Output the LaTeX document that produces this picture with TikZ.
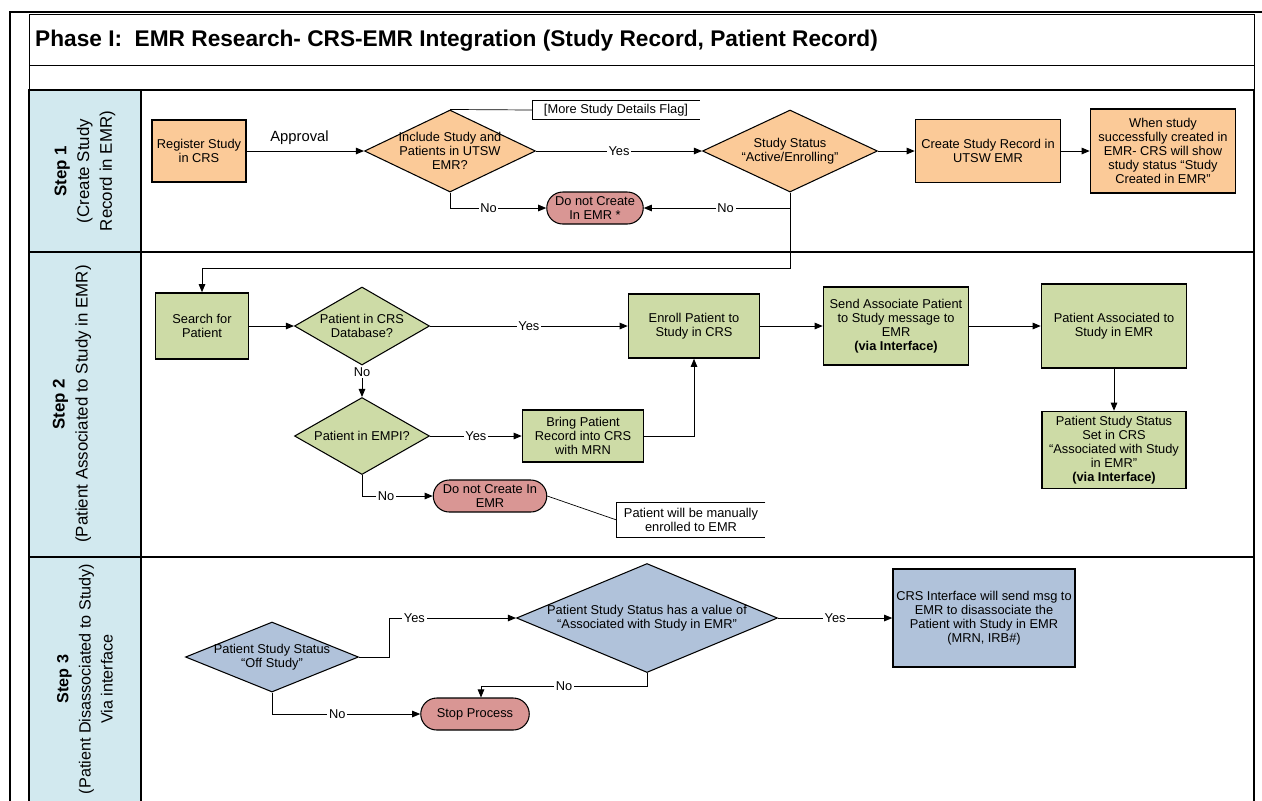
\documentclass[tikz,border=0pt]{standalone}
\usepackage{fontspec}
\setmainfont{Liberation Sans}
\usepackage{tikz}
\usetikzlibrary{shapes.geometric, shapes.misc, arrows.meta, positioning}
\definecolor{cLane}{RGB}{210,233,239}
\definecolor{cOrange}{RGB}{251,202,152}
\definecolor{cGreen}{RGB}{205,219,166}
\definecolor{cSteel}{RGB}{176,194,218}
\definecolor{cStop}{RGB}{217,150,148}
\newcommand{\flowfont}{\fontsize{7.3}{7.9}\selectfont}
\tikzset{
	stepbox/.style   ={rectangle, draw=black, line width=0.9pt, align=center, inner sep=1pt, font=\flowfont},
	choice/.style    ={diamond, draw=black, line width=0.6pt, inner sep=0pt},
	choicetext/.style={align=center, font=\flowfont, inner sep=0pt},
	endcap/.style    ={rounded rectangle, draw=black, line width=0.6pt, fill=cStop, align=center, inner sep=1pt, font=\flowfont},
	flagnote/.style  ={rectangle, align=center, inner sep=1pt, font=\flowfont},
	flowline/.style  ={-{Triangle[length=1.6mm, width=1.3mm]}, line width=0.5pt},
	lbl/.style       ={fill=white, inner sep=1pt, font=\flowfont},
	lanehead/.style  ={rotate=90, align=center, font=\fontsize{9.6}{13}\selectfont},
}

\begin{document}
\begin{tikzpicture}[x=0.2mm, y=-0.2mm]
	\useasboundingbox (0,0) rectangle (1262,800);
	% frame and lanes
	\fill[cLane] (29,90) rectangle (141,810);
	\draw[line width=0.5pt] (29,14) rectangle (1254,65) (29,65) rectangle (1254,90);
	\draw[line width=1pt] (29,90) rectangle (1254,252) (29,252) rectangle (1254,557);
	\draw[line width=1pt] (29,810) |- (1254,557) -- (1254,810) (141,90) -- (141,810);
	\draw[line width=1.4pt] (10,810) -- (10,12) -- (1270,12);
	\node[anchor=west, font=\fontsize{12.9}{15}\selectfont\bfseries] (title) at (29,41) {Phase I:\ \ EMR Research- CRS-EMR Integration (Study Record, Patient Record)};
	\node[lanehead] (lane1) at (85,171) {\textbf{Step 1}\\(Create Study\\Record in EMR)};
	\node[lanehead] (lane2) at (72,404) {\textbf{Step 2}\\(Patient Associated to Study in EMR)};
	\node[lanehead, font=\fontsize{9.2}{12.6}\selectfont] (lane3) at (85,679) {\textbf{Step 3}\\(Patient Disassociated to Study)\\Via interface};

	% step 1
	\node[stepbox, fill=cOrange, minimum width=18.8mm, minimum height=12.4mm] (reg) at (199,151) {Register Study\\in CRS};
	\node[choice, fill=cOrange, minimum width=34.2mm, minimum height=16.4mm, label={[choicetext]center:{Include Study and\\Patients in UTSW\\EMR?}}] (inc) at (450,151) {};
	\node[choice, fill=cOrange, minimum width=35mm, minimum height=16.4mm, label={[choicetext]center:{Study Status\\“Active/Enrolling”}}] (stat) at (790,151) {};
	\node[stepbox, fill=cOrange, minimum width=29mm, minimum height=12.6mm] (crt) at (988,151) {Create Study Record in\\UTSW EMR};
	\node[stepbox, fill=cOrange, minimum width=29mm, minimum height=16.8mm] (when) at (1163,151) {When study\\successfully created in\\EMR- CRS will show\\study status “Study\\Created in EMR”};
	\node[endcap, minimum width=20mm, minimum height=6.4mm] (dnc1) at (595,208) {Do not Create\\In EMR *};
	\node[flagnote, minimum width=33.4mm, minimum height=3.6mm] (flag) at (616,110) {[More Study Details Flag]};
	\draw[line width=0.4pt] (flag.north east) -| (flag.south west) -- (flag.south east);
	\draw[line width=0.4pt] (inc.north) -- (flag.west);
	\draw[flowline] (reg.east) -- node[above, pos=0.45, font=\fontsize{8.4}{10}\selectfont] {Approval} (inc.west);
	\draw[flowline] (inc.east) -- node[lbl] {Yes} (stat.west);
	\draw[flowline] (stat.east) -- (crt.west);
	\draw[flowline] (crt.east) -- (when.west);
	\draw[flowline] (inc.south) |- node[lbl, pos=0.7] {No} (dnc1.west);
	\draw[flowline] (stat.south) |- node[lbl, pos=0.72] {No} (dnc1.east);

	% step 2
	\node[stepbox, fill=cGreen, minimum width=18.6mm, minimum height=13.2mm] (search) at (202,326) {Search for\\Patient};
	\node[choice, fill=cGreen, minimum width=27mm, minimum height=15.6mm, label={[choicetext]center:{Patient in CRS\\Database?}}] (crsdb) at (362,326) {};
	\node[stepbox, fill=cGreen, minimum width=26.2mm, minimum height=12.8mm] (enroll) at (694,326) {Enroll Patient to\\Study in CRS};
	\node[stepbox, fill=cGreen, minimum width=29mm, minimum height=15.6mm] (send) at (896,326) {Send Associate Patient\\to Study message to\\EMR\\\textbf{(via Interface)}};
	\node[stepbox, fill=cGreen, minimum width=29mm, minimum height=16.8mm] (assoc) at (1114,326) {Patient Associated to\\Study in EMR};
	\node[stepbox, fill=cGreen, minimum width=28.8mm, minimum height=15.4mm] (pss) at (1114,450) {Patient Study Status\\Set in CRS\\“Associated with Study\\in EMR”\\\textbf{(via Interface)}};
	\node[choice, fill=cGreen, minimum width=27mm, minimum height=15.4mm, label={[choicetext]center:{Patient in EMPI?}}] (empi) at (362,436) {};
	\node[stepbox, fill=cGreen, minimum width=24.2mm, minimum height=10.4mm] (bring) at (583,436) {Bring Patient\\Record into CRS\\with MRN};
	\node[endcap, minimum width=23.4mm, minimum height=6.4mm] (dnc2) at (490,496) {Do not Create In\\EMR};
	\node[flagnote, minimum width=29.6mm, minimum height=6.8mm] (manual) at (691,520) {Patient will be manually\\enrolled to EMR};
	\draw[line width=0.4pt] (manual.north east) -| (manual.south west) -- (manual.south east);
	\draw[line width=0.4pt] (dnc2.east) -- (manual.west);
	\coordinate (down) at (790,268);
	\draw[flowline] (stat.south) -- (down) -| (search.north);
	\draw[flowline] (search.east) -- (crsdb.west);
	\draw[flowline] (crsdb.east) -- node[lbl] {Yes} (enroll.west);
	\draw[flowline] (enroll.east) -- (send.west);
	\draw[flowline] (send.east) -- (assoc.west);
	\draw[flowline] (assoc.south) -- (pss.north);
	\draw[flowline] (crsdb.south) -- node[lbl, pos=0.2] {No} (empi.north);
	\draw[flowline] (empi.east) -- node[lbl] {Yes} (bring.west);
	\draw[flowline] (bring.east) -| (enroll.south);
	\draw[flowline] (empi.south) |- node[lbl, pos=0.67] {No} (dnc2.west);

	% step 3
	\node[choice, fill=cSteel, minimum width=34.6mm, minimum height=14mm, label={[choicetext]center:{Patient Study Status\\“Off Study”}}] (off) at (272,657) {};
	\node[choice, fill=cSteel, minimum width=52.2mm, minimum height=21.8mm, label={[choicetext]center:{Patient Study Status has a value of\\“Associated with Study in EMR”}}] (val) at (647,618) {};
	\node[stepbox, fill=cSteel, minimum width=36.4mm, minimum height=19.6mm] (msg) at (984,618) {CRS Interface will send msg to\\EMR to disassociate the\\Patient with Study in EMR\\(MRN, IRB\#)};
	\node[endcap, minimum width=22.4mm, minimum height=6.4mm] (stop) at (475,714) {Stop Process};
	\draw[flowline] (off.east) -- ++(30,0) |- node[lbl, pos=0.6] {Yes} (val.west);
	\draw[flowline] (val.east) -- node[lbl] {Yes} (msg.west);
	\draw[flowline] (val.south) -- ++(0,13) -| node[lbl, pos=0.25] {No} ([xshift=1.2mm]stop.north);
	\draw[flowline] (off.south) |- node[lbl, pos=0.72] {No} (stop.west);
\end{tikzpicture}
\end{document}
